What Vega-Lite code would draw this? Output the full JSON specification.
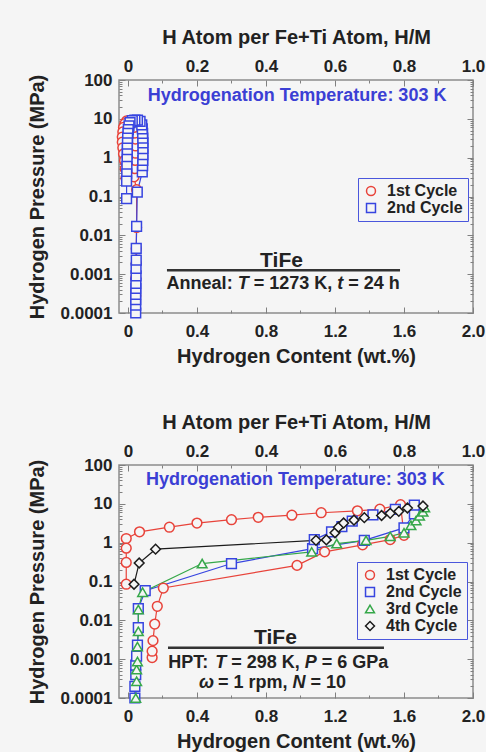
{
  "$schema": "https://vega.github.io/schema/vega-lite/v6.json",
  "background": "#f5f5f5",
  "padding": {"left": 26, "top": 26, "right": 0, "bottom": 0},
  "config": {
    "font": "Liberation Sans",
    "view": {"stroke": "#8c8c8c", "strokeWidth": 1.5},
    "axis": {
      "labelFont": "Liberation Sans", "labelFontSize": 17, "labelFontWeight": "bold", "labelColor": "#222222",
      "titleFont": "Liberation Sans", "titleFontSize": 20, "titleFontWeight": "bold", "titleColor": "#222222",
      "tickColor": "#808080", "tickWidth": 1, "domain": false, "grid": false, "labelFlush": false, "labelOverlap": false
    },
    "legend": {
      "labelFont": "Liberation Sans", "labelFontSize": 16, "labelFontWeight": "bold", "labelColor": "#222222",
      "strokeColor": "#4a56dc", "fillColor": "#f5f5f5", "padding": 5, "symbolStrokeWidth": 1.5, "symbolSize": 80,
      "rowPadding": 1, "labelOffset": 8
    }
  },
  "datasets": {
    "top": [
      {"cycle": "1st Cycle", "step": 1, "wt": 0.045, "mpa": 0.00028},
      {"cycle": "1st Cycle", "step": 2, "wt": 0.045, "mpa": 0.0008},
      {"cycle": "1st Cycle", "step": 3, "wt": 0.048, "mpa": 0.0019},
      {"cycle": "1st Cycle", "step": 4, "wt": 0.048, "mpa": 0.0045},
      {"cycle": "1st Cycle", "step": 5, "wt": 0.05, "mpa": 0.016},
      {"cycle": "1st Cycle", "step": 6, "wt": 0.05, "mpa": 0.15},
      {"cycle": "1st Cycle", "step": 7, "wt": 0.035, "mpa": 0.32},
      {"cycle": "1st Cycle", "step": 8, "wt": 0.04, "mpa": 0.52},
      {"cycle": "1st Cycle", "step": 9, "wt": 0.042, "mpa": 0.85},
      {"cycle": "1st Cycle", "step": 10, "wt": 0.045, "mpa": 1.3},
      {"cycle": "1st Cycle", "step": 11, "wt": 0.045, "mpa": 2.0},
      {"cycle": "1st Cycle", "step": 12, "wt": 0.043, "mpa": 3.0},
      {"cycle": "1st Cycle", "step": 13, "wt": 0.04, "mpa": 4.3},
      {"cycle": "1st Cycle", "step": 14, "wt": 0.035, "mpa": 6.0},
      {"cycle": "1st Cycle", "step": 15, "wt": 0.025, "mpa": 7.8},
      {"cycle": "1st Cycle", "step": 16, "wt": 0.01, "mpa": 9.0},
      {"cycle": "1st Cycle", "step": 17, "wt": -0.008, "mpa": 8.8},
      {"cycle": "1st Cycle", "step": 18, "wt": -0.018, "mpa": 7.5},
      {"cycle": "1st Cycle", "step": 19, "wt": -0.026, "mpa": 6.0},
      {"cycle": "1st Cycle", "step": 20, "wt": -0.03, "mpa": 4.6},
      {"cycle": "1st Cycle", "step": 21, "wt": -0.033, "mpa": 3.4},
      {"cycle": "1st Cycle", "step": 22, "wt": -0.033, "mpa": 2.5},
      {"cycle": "1st Cycle", "step": 23, "wt": -0.03, "mpa": 1.8},
      {"cycle": "1st Cycle", "step": 24, "wt": -0.026, "mpa": 1.25},
      {"cycle": "1st Cycle", "step": 25, "wt": -0.02, "mpa": 0.85},
      {"cycle": "1st Cycle", "step": 26, "wt": -0.016, "mpa": 0.52},
      {"cycle": "1st Cycle", "step": 27, "wt": -0.012, "mpa": 0.3},
      {"cycle": "2nd Cycle", "step": 1, "wt": 0.045, "mpa": 0.0001},
      {"cycle": "2nd Cycle", "step": 2, "wt": 0.045, "mpa": 0.00016},
      {"cycle": "2nd Cycle", "step": 3, "wt": 0.045, "mpa": 0.00022},
      {"cycle": "2nd Cycle", "step": 4, "wt": 0.045, "mpa": 0.0003},
      {"cycle": "2nd Cycle", "step": 5, "wt": 0.046, "mpa": 0.00043},
      {"cycle": "2nd Cycle", "step": 6, "wt": 0.046, "mpa": 0.00058},
      {"cycle": "2nd Cycle", "step": 7, "wt": 0.047, "mpa": 0.0009},
      {"cycle": "2nd Cycle", "step": 8, "wt": 0.047, "mpa": 0.0014},
      {"cycle": "2nd Cycle", "step": 9, "wt": 0.048, "mpa": 0.0023},
      {"cycle": "2nd Cycle", "step": 10, "wt": 0.048, "mpa": 0.0046},
      {"cycle": "2nd Cycle", "step": 11, "wt": 0.05, "mpa": 0.017},
      {"cycle": "2nd Cycle", "step": 12, "wt": 0.054, "mpa": 0.13},
      {"cycle": "2nd Cycle", "step": 13, "wt": 0.083, "mpa": 0.43},
      {"cycle": "2nd Cycle", "step": 14, "wt": 0.085, "mpa": 0.62},
      {"cycle": "2nd Cycle", "step": 15, "wt": 0.086, "mpa": 0.85},
      {"cycle": "2nd Cycle", "step": 16, "wt": 0.087, "mpa": 1.2},
      {"cycle": "2nd Cycle", "step": 17, "wt": 0.087, "mpa": 1.7},
      {"cycle": "2nd Cycle", "step": 18, "wt": 0.087, "mpa": 2.4},
      {"cycle": "2nd Cycle", "step": 19, "wt": 0.086, "mpa": 3.2},
      {"cycle": "2nd Cycle", "step": 20, "wt": 0.085, "mpa": 4.2},
      {"cycle": "2nd Cycle", "step": 21, "wt": 0.083, "mpa": 5.5},
      {"cycle": "2nd Cycle", "step": 22, "wt": 0.08, "mpa": 7.0},
      {"cycle": "2nd Cycle", "step": 23, "wt": 0.07, "mpa": 8.6},
      {"cycle": "2nd Cycle", "step": 24, "wt": 0.055, "mpa": 9.3},
      {"cycle": "2nd Cycle", "step": 25, "wt": 0.04, "mpa": 9.3},
      {"cycle": "2nd Cycle", "step": 26, "wt": 0.025, "mpa": 9.0},
      {"cycle": "2nd Cycle", "step": 27, "wt": 0.012, "mpa": 8.0},
      {"cycle": "2nd Cycle", "step": 28, "wt": 0.006, "mpa": 6.6},
      {"cycle": "2nd Cycle", "step": 29, "wt": 0.002, "mpa": 5.3},
      {"cycle": "2nd Cycle", "step": 30, "wt": 0.0, "mpa": 4.2},
      {"cycle": "2nd Cycle", "step": 31, "wt": -0.002, "mpa": 3.2},
      {"cycle": "2nd Cycle", "step": 32, "wt": -0.003, "mpa": 2.4},
      {"cycle": "2nd Cycle", "step": 33, "wt": -0.004, "mpa": 1.75},
      {"cycle": "2nd Cycle", "step": 34, "wt": -0.004, "mpa": 1.25},
      {"cycle": "2nd Cycle", "step": 35, "wt": -0.005, "mpa": 0.9},
      {"cycle": "2nd Cycle", "step": 36, "wt": -0.006, "mpa": 0.6},
      {"cycle": "2nd Cycle", "step": 37, "wt": -0.007, "mpa": 0.38},
      {"cycle": "2nd Cycle", "step": 38, "wt": -0.008, "mpa": 0.25},
      {"cycle": "2nd Cycle", "step": 39, "wt": -0.008, "mpa": 0.088}
    ],
    "bottom": [
      {"cycle": "1st Cycle", "step": 1, "wt": 0.14, "mpa": 0.0011},
      {"cycle": "1st Cycle", "step": 2, "wt": 0.14, "mpa": 0.0016},
      {"cycle": "1st Cycle", "step": 3, "wt": 0.145, "mpa": 0.003},
      {"cycle": "1st Cycle", "step": 4, "wt": 0.155, "mpa": 0.008},
      {"cycle": "1st Cycle", "step": 5, "wt": 0.17, "mpa": 0.023},
      {"cycle": "1st Cycle", "step": 6, "wt": 0.205, "mpa": 0.068},
      {"cycle": "1st Cycle", "step": 7, "wt": 0.98, "mpa": 0.26},
      {"cycle": "1st Cycle", "step": 8, "wt": 1.14, "mpa": 0.58},
      {"cycle": "1st Cycle", "step": 9, "wt": 1.36, "mpa": 0.88},
      {"cycle": "1st Cycle", "step": 10, "wt": 1.52, "mpa": 1.2},
      {"cycle": "1st Cycle", "step": 11, "wt": 1.6, "mpa": 1.55},
      {"cycle": "1st Cycle", "step": 12, "wt": 1.58, "mpa": 9.5},
      {"cycle": "1st Cycle", "step": 13, "wt": 1.46, "mpa": 7.3},
      {"cycle": "1st Cycle", "step": 14, "wt": 1.33, "mpa": 6.6},
      {"cycle": "1st Cycle", "step": 15, "wt": 1.12, "mpa": 5.9},
      {"cycle": "1st Cycle", "step": 16, "wt": 0.95, "mpa": 5.1},
      {"cycle": "1st Cycle", "step": 17, "wt": 0.755, "mpa": 4.5},
      {"cycle": "1st Cycle", "step": 18, "wt": 0.6, "mpa": 3.9},
      {"cycle": "1st Cycle", "step": 19, "wt": 0.4, "mpa": 3.2},
      {"cycle": "1st Cycle", "step": 20, "wt": 0.24, "mpa": 2.5},
      {"cycle": "1st Cycle", "step": 21, "wt": 0.067, "mpa": 1.9},
      {"cycle": "1st Cycle", "step": 22, "wt": -0.01, "mpa": 1.28},
      {"cycle": "1st Cycle", "step": 23, "wt": -0.01, "mpa": 0.72},
      {"cycle": "1st Cycle", "step": 24, "wt": -0.01, "mpa": 0.31},
      {"cycle": "1st Cycle", "step": 25, "wt": -0.01, "mpa": 0.085},
      {"cycle": "2nd Cycle", "step": 1, "wt": 0.04, "mpa": 0.0001},
      {"cycle": "2nd Cycle", "step": 2, "wt": 0.04, "mpa": 0.0002},
      {"cycle": "2nd Cycle", "step": 3, "wt": 0.045, "mpa": 0.0004},
      {"cycle": "2nd Cycle", "step": 4, "wt": 0.045, "mpa": 0.0007},
      {"cycle": "2nd Cycle", "step": 5, "wt": 0.05, "mpa": 0.0012},
      {"cycle": "2nd Cycle", "step": 6, "wt": 0.055, "mpa": 0.0023},
      {"cycle": "2nd Cycle", "step": 7, "wt": 0.06, "mpa": 0.0065},
      {"cycle": "2nd Cycle", "step": 8, "wt": 0.06, "mpa": 0.02},
      {"cycle": "2nd Cycle", "step": 9, "wt": 0.1, "mpa": 0.058},
      {"cycle": "2nd Cycle", "step": 10, "wt": 0.6, "mpa": 0.29},
      {"cycle": "2nd Cycle", "step": 11, "wt": 1.07, "mpa": 0.7},
      {"cycle": "2nd Cycle", "step": 12, "wt": 1.37, "mpa": 1.15},
      {"cycle": "2nd Cycle", "step": 13, "wt": 1.6, "mpa": 2.4},
      {"cycle": "2nd Cycle", "step": 14, "wt": 1.66, "mpa": 5.5},
      {"cycle": "2nd Cycle", "step": 15, "wt": 1.66, "mpa": 9.3},
      {"cycle": "2nd Cycle", "step": 16, "wt": 1.55, "mpa": 7.2},
      {"cycle": "2nd Cycle", "step": 17, "wt": 1.42, "mpa": 5.2},
      {"cycle": "2nd Cycle", "step": 18, "wt": 1.3, "mpa": 3.6},
      {"cycle": "2nd Cycle", "step": 19, "wt": 1.24, "mpa": 2.6},
      {"cycle": "2nd Cycle", "step": 20, "wt": 1.18, "mpa": 1.9},
      {"cycle": "2nd Cycle", "step": 21, "wt": 1.08, "mpa": 1.2},
      {"cycle": "3rd Cycle", "step": 1, "wt": 0.045, "mpa": 0.0001},
      {"cycle": "3rd Cycle", "step": 2, "wt": 0.05, "mpa": 0.00027},
      {"cycle": "3rd Cycle", "step": 3, "wt": 0.05, "mpa": 0.00054},
      {"cycle": "3rd Cycle", "step": 4, "wt": 0.055, "mpa": 0.00087},
      {"cycle": "3rd Cycle", "step": 5, "wt": 0.055, "mpa": 0.0021},
      {"cycle": "3rd Cycle", "step": 6, "wt": 0.06, "mpa": 0.0052},
      {"cycle": "3rd Cycle", "step": 7, "wt": 0.06, "mpa": 0.019},
      {"cycle": "3rd Cycle", "step": 8, "wt": 0.085, "mpa": 0.053},
      {"cycle": "3rd Cycle", "step": 9, "wt": 0.43, "mpa": 0.29},
      {"cycle": "3rd Cycle", "step": 10, "wt": 1.065, "mpa": 0.58},
      {"cycle": "3rd Cycle", "step": 11, "wt": 1.21, "mpa": 0.95},
      {"cycle": "3rd Cycle", "step": 12, "wt": 1.38, "mpa": 1.15},
      {"cycle": "3rd Cycle", "step": 13, "wt": 1.52, "mpa": 1.45},
      {"cycle": "3rd Cycle", "step": 14, "wt": 1.6, "mpa": 1.8},
      {"cycle": "3rd Cycle", "step": 15, "wt": 1.64, "mpa": 2.8},
      {"cycle": "3rd Cycle", "step": 16, "wt": 1.67, "mpa": 3.7},
      {"cycle": "3rd Cycle", "step": 17, "wt": 1.69, "mpa": 4.9},
      {"cycle": "3rd Cycle", "step": 18, "wt": 1.71, "mpa": 6.2},
      {"cycle": "3rd Cycle", "step": 19, "wt": 1.72, "mpa": 8.0},
      {"cycle": "4th Cycle", "step": 1, "wt": 0.035, "mpa": 0.085},
      {"cycle": "4th Cycle", "step": 2, "wt": 0.065, "mpa": 0.3},
      {"cycle": "4th Cycle", "step": 3, "wt": 0.16, "mpa": 0.68},
      {"cycle": "4th Cycle", "step": 4, "wt": 1.09, "mpa": 1.15},
      {"cycle": "4th Cycle", "step": 5, "wt": 1.15, "mpa": 1.18},
      {"cycle": "4th Cycle", "step": 6, "wt": 1.2, "mpa": 1.8},
      {"cycle": "4th Cycle", "step": 7, "wt": 1.22, "mpa": 2.5},
      {"cycle": "4th Cycle", "step": 8, "wt": 1.25, "mpa": 3.2},
      {"cycle": "4th Cycle", "step": 9, "wt": 1.31, "mpa": 3.8},
      {"cycle": "4th Cycle", "step": 10, "wt": 1.37, "mpa": 4.4},
      {"cycle": "4th Cycle", "step": 11, "wt": 1.47, "mpa": 5.0},
      {"cycle": "4th Cycle", "step": 12, "wt": 1.52, "mpa": 5.7},
      {"cycle": "4th Cycle", "step": 13, "wt": 1.57, "mpa": 6.4},
      {"cycle": "4th Cycle", "step": 14, "wt": 1.62, "mpa": 7.8},
      {"cycle": "4th Cycle", "step": 15, "wt": 1.71, "mpa": 8.8}
    ],
    "topNotes": [
      {"role": "temp", "wt": 0.98, "mpa": 38, "txt": "Hydrogenation Temperature: 303 K"},
      {"role": "name", "wt": 0.89, "mpa": 0.0022, "txt": "TiFe"},
      {"role": "rule", "wt": 0.226, "wt2": 1.577, "mpa": 0.00126},
      {"role": "up", "wt": 0.224, "mpa": 0.00055, "txt": "Anneal:"},
      {"role": "it", "wt": 0.636, "mpa": 0.00055, "txt": "T"},
      {"role": "up", "wt": 0.729, "mpa": 0.00055, "txt": "= 1273 K,"},
      {"role": "it", "wt": 1.213, "mpa": 0.00055, "txt": "t"},
      {"role": "up", "wt": 1.277, "mpa": 0.00055, "txt": "= 24 h"}
    ],
    "bottomNotes": [
      {"role": "temp", "wt": 0.97, "mpa": 41, "txt": "Hydrogenation Temperature: 303 K"},
      {"role": "name", "wt": 0.855, "mpa": 0.0035, "txt": "TiFe"},
      {"role": "rule", "wt": 0.232, "wt2": 1.484, "mpa": 0.00196},
      {"role": "up", "wt": 0.234, "mpa": 0.0008, "txt": "HPT:"},
      {"role": "it", "wt": 0.506, "mpa": 0.0008, "txt": "T"},
      {"role": "up", "wt": 0.599, "mpa": 0.0008, "txt": "= 298 K,"},
      {"role": "it", "wt": 1.025, "mpa": 0.0008, "txt": "P"},
      {"role": "up", "wt": 1.123, "mpa": 0.0008, "txt": "= 6 GPa"},
      {"role": "it", "wt": 0.412, "mpa": 0.000245, "txt": "ω"},
      {"role": "up", "wt": 0.522, "mpa": 0.000245, "txt": "= 1 rpm,"},
      {"role": "it", "wt": 0.954, "mpa": 0.000245, "txt": "N"},
      {"role": "up", "wt": 1.058, "mpa": 0.000245, "txt": "= 10"}
    ]
  },
  "spacing": 44,
  "resolve": {"scale": {"color": "independent", "shape": "independent", "stroke": "independent"}, "legend": {"color": "independent", "shape": "independent"}},
  "vconcat": [
    {
      "width": 354, "height": 233,
      "resolve": {"axis": {"x": "independent", "y": "independent"}},
      "layer": [
        {
          "data": {"name": "top"},
          "mark": {"type": "line", "strokeWidth": 1.2},
          "encoding": {
            "x": {"field": "wt", "type": "quantitative", "scale": {"domain": [-0.052, 2.0], "nice": false, "zero": false},
              "axis": {"orient": "bottom", "values": [0, 0.4, 0.8, 1.2, 1.6, 2.0], "labelExpr": "datum.value == 0 ? '0' : format(datum.value, '.1f')", "tickSize": -6, "labelPadding": 16, "title": "Hydrogen Content (wt.%)", "titlePadding": 7}},
            "y": {"field": "mpa", "type": "quantitative", "scale": {"type": "log", "domain": [0.0001, 100], "nice": false},
              "axis": {"orient": "left", "values": [0.0001, 0.001, 0.01, 0.1, 1, 10, 100], "labelExpr": "format(datum.value, '~g')", "tickSize": -6, "labelPadding": 13, "title": "Hydrogen Pressure (MPa)", "titlePadding": 13}},
            "stroke": {"field": "cycle", "type": "nominal", "scale": {"range": ["#e8433a", "#3745e0"]}, "legend": null},
            "order": {"field": "step", "type": "quantitative"}
          }
        },
        {
          "data": {"name": "top"},
          "mark": {"type": "point", "filled": false, "fill": "#f5f5f5", "fillOpacity": 1, "strokeWidth": 1.5, "size": 95},
          "encoding": {
            "x": {"field": "wt", "type": "quantitative", "scale": {"domain": [-0.052, 2.0], "nice": false, "zero": false},
              "axis": {"orient": "bottom", "values": [0.2, 0.6, 1.0, 1.4, 1.8], "labels": false, "tickSize": -3, "title": null}},
            "y": {"field": "mpa", "type": "quantitative", "scale": {"type": "log", "domain": [0.0001, 100], "nice": false},
              "axis": {"orient": "left", "values": [0.0002,0.0003,0.0004,0.0005,0.0006,0.0007,0.0008,0.0009,0.002,0.003,0.004,0.005,0.006,0.007,0.008,0.009,0.02,0.03,0.04,0.05,0.06,0.07,0.08,0.09,0.2,0.3,0.4,0.5,0.6,0.7,0.8,0.9,2,3,4,5,6,7,8,9,20,30,40,50,60,70,80,90], "labels": false, "tickSize": -3, "title": null}},
            "color": {"field": "cycle", "type": "nominal", "scale": {"domain": ["1st Cycle", "2nd Cycle"], "range": ["#e8433a", "#3745e0"]},
              "legend": {"title": null, "orient": "none", "legendX": 239, "legendY": 98}},
            "shape": {"field": "cycle", "type": "nominal", "scale": {"domain": ["1st Cycle", "2nd Cycle"], "range": ["circle", "square"]},
              "legend": {"title": null, "orient": "none", "legendX": 239, "legendY": 98}}
          }
        },
        {
          "data": {"name": "topNotes"},
          "transform": [{"filter": "datum.role == 'temp'"}],
          "mark": {"type": "text", "fontSize": 18, "fontWeight": "bold", "color": "#3b3fd4", "align": "center", "baseline": "middle"},
          "encoding": {
            "x": {"field": "wt", "type": "quantitative", "scale": {"domain": [-0.052, 2.0], "nice": false, "zero": false},
              "axis": {"orient": "top", "values": [0, 0.4, 0.8, 1.2, 1.6, 2.0], "labelExpr": "datum.value == 0 ? '0' : format(datum.value / 2, '.1f')", "tickSize": -6, "labelPadding": 11, "title": "H Atom per Fe+Ti Atom, H/M", "titlePadding": 10}},
            "y": {"field": "mpa", "type": "quantitative", "scale": {"type": "log", "domain": [0.0001, 100], "nice": false},
              "axis": {"orient": "right", "values": [0.0001, 0.001, 0.01, 0.1, 1, 10, 100], "labels": false, "tickSize": -6, "title": null}},
            "text": {"field": "txt"}
          }
        },
        {
          "data": {"name": "topNotes"},
          "transform": [{"filter": "datum.role == 'name'"}],
          "mark": {"type": "text", "fontSize": 21, "fontWeight": "bold", "color": "#222222", "align": "center", "baseline": "middle"},
          "encoding": {
            "x": {"field": "wt", "type": "quantitative", "scale": {"domain": [-0.052, 2.0], "nice": false, "zero": false},
              "axis": {"orient": "top", "values": [0.2, 0.6, 1.0, 1.4, 1.8], "labels": false, "tickSize": -3, "title": null}},
            "y": {"field": "mpa", "type": "quantitative", "scale": {"type": "log", "domain": [0.0001, 100], "nice": false},
              "axis": {"orient": "right", "values": [0.0002,0.0003,0.0004,0.0005,0.0006,0.0007,0.0008,0.0009,0.002,0.003,0.004,0.005,0.006,0.007,0.008,0.009,0.02,0.03,0.04,0.05,0.06,0.07,0.08,0.09,0.2,0.3,0.4,0.5,0.6,0.7,0.8,0.9,2,3,4,5,6,7,8,9,20,30,40,50,60,70,80,90], "labels": false, "tickSize": -3, "title": null}},
            "text": {"field": "txt"}
          }
        },
        {
          "data": {"name": "topNotes"},
          "transform": [{"filter": "datum.role == 'rule'"}],
          "mark": {"type": "rule", "strokeWidth": 2.5, "color": "#333333"},
          "encoding": {
            "x": {"field": "wt", "type": "quantitative", "axis": null},
            "x2": {"field": "wt2"},
            "y": {"field": "mpa", "type": "quantitative", "axis": null}
          }
        },
        {
          "data": {"name": "topNotes"},
          "transform": [{"filter": "datum.role == 'up'"}],
          "mark": {"type": "text", "fontSize": 18, "fontWeight": "bold", "color": "#222222", "align": "left", "baseline": "middle"},
          "encoding": {
            "x": {"field": "wt", "type": "quantitative", "axis": null},
            "y": {"field": "mpa", "type": "quantitative", "axis": null},
            "text": {"field": "txt"}
          }
        },
        {
          "data": {"name": "topNotes"},
          "transform": [{"filter": "datum.role == 'it'"}],
          "mark": {"type": "text", "fontSize": 18, "fontWeight": "bold", "fontStyle": "italic", "color": "#222222", "align": "left", "baseline": "middle"},
          "encoding": {
            "x": {"field": "wt", "type": "quantitative", "axis": null},
            "y": {"field": "mpa", "type": "quantitative", "axis": null},
            "text": {"field": "txt"}
          }
        }
      ]
    },
    {
      "width": 354, "height": 233,
      "resolve": {"axis": {"x": "independent", "y": "independent"}},
      "layer": [
        {
          "data": {"name": "bottom"},
          "mark": {"type": "line", "strokeWidth": 1.2},
          "encoding": {
            "x": {"field": "wt", "type": "quantitative", "scale": {"domain": [-0.052, 2.0], "nice": false, "zero": false},
              "axis": {"orient": "bottom", "values": [0, 0.4, 0.8, 1.2, 1.6, 2.0], "labelExpr": "datum.value == 0 ? '0' : format(datum.value, '.1f')", "tickSize": -6, "labelPadding": 16, "title": "Hydrogen Content (wt.%)", "titlePadding": 7}},
            "y": {"field": "mpa", "type": "quantitative", "scale": {"type": "log", "domain": [0.0001, 100], "nice": false},
              "axis": {"orient": "left", "values": [0.0001, 0.001, 0.01, 0.1, 1, 10, 100], "labelExpr": "format(datum.value, '~g')", "tickSize": -6, "labelPadding": 13, "title": "Hydrogen Pressure (MPa)", "titlePadding": 13}},
            "stroke": {"field": "cycle", "type": "nominal", "scale": {"range": ["#e8433a", "#3745e0", "#36a84a", "#1c1c1c"]}, "legend": null},
            "order": {"field": "step", "type": "quantitative"}
          }
        },
        {
          "data": {"name": "bottom"},
          "mark": {"type": "point", "filled": false, "fill": "#f5f5f5", "fillOpacity": 1, "strokeWidth": 1.5, "size": 95},
          "encoding": {
            "x": {"field": "wt", "type": "quantitative", "scale": {"domain": [-0.052, 2.0], "nice": false, "zero": false},
              "axis": {"orient": "bottom", "values": [0.2, 0.6, 1.0, 1.4, 1.8], "labels": false, "tickSize": -3, "title": null}},
            "y": {"field": "mpa", "type": "quantitative", "scale": {"type": "log", "domain": [0.0001, 100], "nice": false},
              "axis": {"orient": "left", "values": [0.0002,0.0003,0.0004,0.0005,0.0006,0.0007,0.0008,0.0009,0.002,0.003,0.004,0.005,0.006,0.007,0.008,0.009,0.02,0.03,0.04,0.05,0.06,0.07,0.08,0.09,0.2,0.3,0.4,0.5,0.6,0.7,0.8,0.9,2,3,4,5,6,7,8,9,20,30,40,50,60,70,80,90], "labels": false, "tickSize": -3, "title": null}},
            "color": {"field": "cycle", "type": "nominal", "scale": {"domain": ["1st Cycle", "2nd Cycle", "3rd Cycle", "4th Cycle"], "range": ["#e8433a", "#3745e0", "#36a84a", "#1c1c1c"]},
              "legend": {"title": null, "orient": "none", "legendX": 238, "legendY": 97}},
            "shape": {"field": "cycle", "type": "nominal", "scale": {"domain": ["1st Cycle", "2nd Cycle", "3rd Cycle", "4th Cycle"], "range": ["circle", "square", "triangle-up", "diamond"]},
              "legend": {"title": null, "orient": "none", "legendX": 238, "legendY": 97}}
          }
        },
        {
          "data": {"name": "bottomNotes"},
          "transform": [{"filter": "datum.role == 'temp'"}],
          "mark": {"type": "text", "fontSize": 18, "fontWeight": "bold", "color": "#3b3fd4", "align": "center", "baseline": "middle"},
          "encoding": {
            "x": {"field": "wt", "type": "quantitative", "scale": {"domain": [-0.052, 2.0], "nice": false, "zero": false},
              "axis": {"orient": "top", "values": [0, 0.4, 0.8, 1.2, 1.6, 2.0], "labelExpr": "datum.value == 0 ? '0' : format(datum.value / 2, '.1f')", "tickSize": -6, "labelPadding": 11, "title": "H Atom per Fe+Ti Atom, H/M", "titlePadding": 10}},
            "y": {"field": "mpa", "type": "quantitative", "scale": {"type": "log", "domain": [0.0001, 100], "nice": false},
              "axis": {"orient": "right", "values": [0.0001, 0.001, 0.01, 0.1, 1, 10, 100], "labels": false, "tickSize": -6, "title": null}},
            "text": {"field": "txt"}
          }
        },
        {
          "data": {"name": "bottomNotes"},
          "transform": [{"filter": "datum.role == 'name'"}],
          "mark": {"type": "text", "fontSize": 21, "fontWeight": "bold", "color": "#222222", "align": "center", "baseline": "middle"},
          "encoding": {
            "x": {"field": "wt", "type": "quantitative", "scale": {"domain": [-0.052, 2.0], "nice": false, "zero": false},
              "axis": {"orient": "top", "values": [0.2, 0.6, 1.0, 1.4, 1.8], "labels": false, "tickSize": -3, "title": null}},
            "y": {"field": "mpa", "type": "quantitative", "scale": {"type": "log", "domain": [0.0001, 100], "nice": false},
              "axis": {"orient": "right", "values": [0.0002,0.0003,0.0004,0.0005,0.0006,0.0007,0.0008,0.0009,0.002,0.003,0.004,0.005,0.006,0.007,0.008,0.009,0.02,0.03,0.04,0.05,0.06,0.07,0.08,0.09,0.2,0.3,0.4,0.5,0.6,0.7,0.8,0.9,2,3,4,5,6,7,8,9,20,30,40,50,60,70,80,90], "labels": false, "tickSize": -3, "title": null}},
            "text": {"field": "txt"}
          }
        },
        {
          "data": {"name": "bottomNotes"},
          "transform": [{"filter": "datum.role == 'rule'"}],
          "mark": {"type": "rule", "strokeWidth": 2.5, "color": "#333333"},
          "encoding": {
            "x": {"field": "wt", "type": "quantitative", "axis": null},
            "x2": {"field": "wt2"},
            "y": {"field": "mpa", "type": "quantitative", "axis": null}
          }
        },
        {
          "data": {"name": "bottomNotes"},
          "transform": [{"filter": "datum.role == 'up'"}],
          "mark": {"type": "text", "fontSize": 18, "fontWeight": "bold", "color": "#222222", "align": "left", "baseline": "middle"},
          "encoding": {
            "x": {"field": "wt", "type": "quantitative", "axis": null},
            "y": {"field": "mpa", "type": "quantitative", "axis": null},
            "text": {"field": "txt"}
          }
        },
        {
          "data": {"name": "bottomNotes"},
          "transform": [{"filter": "datum.role == 'it'"}],
          "mark": {"type": "text", "fontSize": 18, "fontWeight": "bold", "fontStyle": "italic", "color": "#222222", "align": "left", "baseline": "middle"},
          "encoding": {
            "x": {"field": "wt", "type": "quantitative", "axis": null},
            "y": {"field": "mpa", "type": "quantitative", "axis": null},
            "text": {"field": "txt"}
          }
        }
      ]
    }
  ]
}
